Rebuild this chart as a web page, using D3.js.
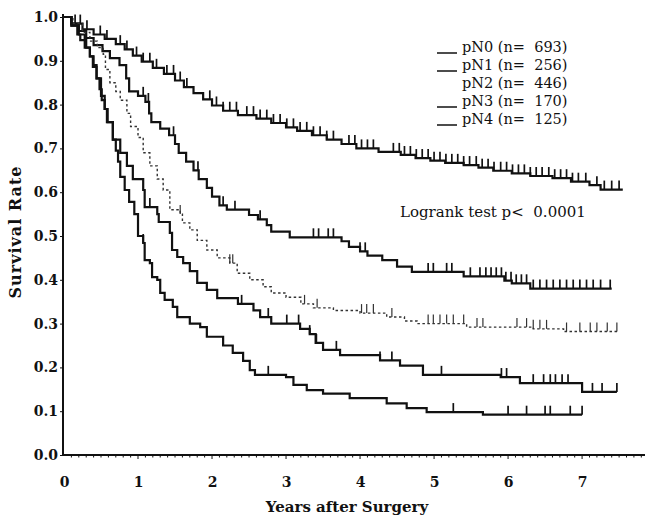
<!DOCTYPE html>
<html>
<head>
<meta charset="utf-8">
<script src="https://cdn.jsdelivr.net/npm/d3@7"></script>
<style>
  html, body { margin: 0; padding: 0; background: #fff; }
  svg { display: block; }
  text { font-family: "DejaVu Serif", serif; fill: #111; }
</style>
</head>
<body>
<svg id="chart" width="647" height="520"></svg>
<script>
// Kaplan–Meier survival by nodal stage: step times (years) and survival at each step
const groups = ["pN0", "pN1", "pN2", "pN3", "pN4"];
const groupN = [693, 256, 446, 170, 125];

const pN0Times = [0, 0.1, 0.25, 0.4, 0.55, 0.7, 0.82, 0.93, 1.05, 1.2, 1.35, 1.5, 1.62, 1.75, 1.88, 2.0, 2.15, 2.35, 2.6, 2.8, 3.0, 3.15, 3.35, 3.55, 3.75, 3.95, 4.25, 4.55, 4.75, 4.95, 5.15, 5.4, 5.6, 5.8, 6.05, 6.3, 6.6, 6.85, 7.1, 7.25];
const pN0Surv  = [1.0, 0.985, 0.972, 0.96, 0.95, 0.938, 0.926, 0.912, 0.898, 0.884, 0.87, 0.855, 0.84, 0.826, 0.812, 0.798, 0.786, 0.776, 0.768, 0.758, 0.748, 0.74, 0.73, 0.72, 0.71, 0.70, 0.692, 0.685, 0.678, 0.672, 0.667, 0.662, 0.656, 0.649, 0.643, 0.637, 0.632, 0.624, 0.616, 0.606];
const pN0End = 7.55;
const pN0Censor = [0.15, 0.22, 0.31, 0.49, 0.58, 0.76, 0.85, 0.98, 1.07, 1.16, 1.25, 1.39, 1.48, 1.57, 1.66, 1.97, 2.06, 2.15, 2.24, 2.33, 2.47, 2.56, 2.65, 2.74, 2.83, 2.92, 3.01, 3.10, 3.19, 3.28, 3.37, 3.46, 3.55, 3.64, 3.85, 3.93, 4.02, 4.1, 4.18, 4.45, 4.53, 4.6, 4.68, 4.76, 4.84, 4.92, 5.0, 5.08, 5.16, 5.24, 5.32, 5.4, 5.48, 5.57, 5.65, 5.73, 5.81, 5.9, 5.98, 6.06, 6.14, 6.22, 6.3, 6.38, 6.46, 6.55, 6.63, 6.71, 6.79, 6.87, 6.95, 7.05, 7.2, 7.3, 7.4, 7.5];

const pN1Times = [0, 0.1, 0.2, 0.3, 0.4, 0.52, 0.62, 0.75, 0.84, 0.88, 1.0, 1.1, 1.15, 1.18, 1.3, 1.42, 1.5, 1.55, 1.65, 1.75, 1.82, 1.93, 2.0, 2.1, 2.2, 2.5, 2.62, 2.74, 2.8, 3.05, 3.75, 3.85, 4.0, 4.1, 4.3, 4.5, 4.7, 5.4, 5.95, 6.05, 6.3];
const pN1Surv  = [1.0, 0.985, 0.968, 0.952, 0.936, 0.922, 0.906, 0.89, 0.86, 0.83, 0.82, 0.806, 0.78, 0.76, 0.745, 0.73, 0.71, 0.69, 0.67, 0.65, 0.63, 0.61, 0.59, 0.57, 0.56, 0.548, 0.538, 0.525, 0.51, 0.497, 0.488, 0.475, 0.465, 0.455, 0.445, 0.43, 0.418, 0.408, 0.398, 0.392, 0.38];
const pN1End = 7.4;
const pN1Censor = [1.07, 1.14, 1.48, 1.81, 2.15, 2.31, 2.65, 3.37, 3.44, 3.57, 3.64, 4.0, 4.07, 4.92, 4.99, 5.17, 5.24, 5.49, 5.62, 5.7, 5.77, 5.84, 5.91, 5.97, 6.04, 6.11, 6.18, 6.25, 6.34, 6.43, 6.52, 6.61, 6.7, 6.79, 6.88, 6.97, 7.06, 7.15, 7.25, 7.38];

const pN2Times = [0, 0.12, 0.25, 0.35, 0.45, 0.53, 0.56, 0.62, 0.7, 0.76, 0.85, 0.9, 1.0, 1.07, 1.16, 1.26, 1.34, 1.43, 1.57, 1.6, 1.7, 1.8, 1.93, 2.07, 2.24, 2.34, 2.51, 2.69, 2.8, 3.0, 3.2, 3.37, 3.64, 4.0, 4.36, 4.6, 4.77, 5.44, 6.34, 6.75];
const pN2Surv  = [1.0, 0.985, 0.965, 0.945, 0.93, 0.915, 0.88, 0.85, 0.83, 0.81, 0.78, 0.75, 0.725, 0.69, 0.66, 0.63, 0.605, 0.56, 0.55, 0.53, 0.514, 0.49, 0.468, 0.45, 0.438, 0.415, 0.40, 0.384, 0.37, 0.36, 0.345, 0.336, 0.33, 0.324, 0.315, 0.306, 0.30, 0.292, 0.288, 0.282];
const pN2End = 7.49;
const pN2Censor = [1.57, 2.24, 2.28, 3.25, 3.42, 4.02, 4.09, 4.18, 4.43, 4.92, 4.99, 5.08, 5.17, 5.26, 5.4, 5.58, 5.66, 6.12, 6.25, 6.34, 6.43, 6.52, 6.79, 6.97, 7.11, 7.2, 7.34, 7.47];

const pN3Times = [0, 0.1, 0.2, 0.28, 0.35, 0.4, 0.44, 0.5, 0.55, 0.58, 0.66, 0.76, 0.85, 0.93, 1.07, 1.09, 1.26, 1.28, 1.43, 1.46, 1.53, 1.61, 1.7, 1.8, 1.93, 2.07, 2.35, 2.56, 2.65, 2.8, 3.19, 3.32, 3.4, 3.5, 3.73, 4.27, 4.54, 4.85, 5.9, 6.16, 7.0];
const pN3Surv  = [1.0, 0.98, 0.96, 0.93, 0.91, 0.89, 0.86, 0.82, 0.79, 0.76, 0.72, 0.69, 0.66, 0.63, 0.605, 0.566, 0.55, 0.532, 0.507, 0.468, 0.452, 0.438, 0.42, 0.393, 0.377, 0.358, 0.345, 0.33, 0.315, 0.30, 0.288, 0.276, 0.256, 0.24, 0.228, 0.216, 0.204, 0.183, 0.178, 0.164, 0.144];
const pN3End = 7.47;
const pN3Censor = [1.16, 2.4, 2.76, 3.01, 3.17, 3.32, 3.41, 3.68, 4.27, 4.43, 4.85, 5.1, 5.91, 5.98, 6.34, 6.48, 6.57, 6.64, 6.73, 6.81, 7.0, 7.14, 7.27, 7.47];

const pN4Times = [0, 0.1, 0.18, 0.22, 0.3, 0.35, 0.39, 0.44, 0.48, 0.51, 0.55, 0.59, 0.66, 0.7, 0.73, 0.76, 0.82, 0.88, 0.95, 1.0, 1.07, 1.09, 1.16, 1.19, 1.26, 1.3, 1.36, 1.47, 1.53, 1.7, 1.84, 1.93, 2.15, 2.28, 2.42, 2.51, 2.58, 3.0, 3.1, 3.28, 3.5, 3.86, 4.36, 4.63, 4.9, 5.66];
const pN4Surv  = [1.0, 0.98, 0.96, 0.947, 0.93, 0.91, 0.886, 0.86, 0.835, 0.81, 0.79, 0.76, 0.72, 0.695, 0.67, 0.635, 0.605, 0.578, 0.55, 0.5, 0.484, 0.445, 0.438, 0.406, 0.40, 0.37, 0.354, 0.338, 0.315, 0.30, 0.292, 0.27, 0.25, 0.233, 0.215, 0.194, 0.183, 0.178, 0.16, 0.148, 0.14, 0.13, 0.118, 0.107, 0.098, 0.092];
const pN4End = 7.0;
const pN4Censor = [1.07, 2.76, 5.26, 6.0, 6.25, 6.5, 6.57, 6.84, 7.0];

const xTicks = [0, 1, 2, 3, 4, 5, 6, 7];
const yTicks = [0.0, 0.1, 0.2, 0.3, 0.4, 0.5, 0.6, 0.7, 0.8, 0.9, 1.0];

const series = [
  { name: groups[0], n: groupN[0], times: pN0Times, surv: pN0Surv, end: pN0End, censor: pN0Censor },
  { name: groups[1], n: groupN[1], times: pN1Times, surv: pN1Surv, end: pN1End, censor: pN1Censor },
  { name: groups[2], n: groupN[2], times: pN2Times, surv: pN2Surv, end: pN2End, censor: pN2Censor },
  { name: groups[3], n: groupN[3], times: pN3Times, surv: pN3Surv, end: pN3End, censor: pN3Censor },
  { name: groups[4], n: groupN[4], times: pN4Times, surv: pN4Surv, end: pN4End, censor: pN4Censor }
];

// line style per group: pN2 is the light dotted curve
const styles = {
  pN0: { width: 2.2, dash: null, color: "#111" },
  pN1: { width: 2.2, dash: null, color: "#111" },
  pN2: { width: 1.4, dash: "2.5,2.5", color: "#333" },
  pN3: { width: 2.2, dash: null, color: "#111" },
  pN4: { width: 2.2, dash: null, color: "#111" }
};

const svg = d3.select("#chart");
const x = d3.scaleLinear().domain([0, 7.85]).range([64, 645]);
const y = d3.scaleLinear().domain([0, 1]).range([455, 17]);

// x axis: baseline with tenth-of-a-year minor ticks
const xAxisG = svg.append("g").attr("transform", `translate(0,${y(0)})`);
xAxisG.append("line")
  .attr("x1", x(0) - 1).attr("x2", x(7.85)).attr("y1", 0).attr("y2", 0)
  .attr("stroke", "#111").attr("stroke-width", 2);
xAxisG.selectAll("line.minor")
  .data(d3.range(1, 79).map(i => i / 10))
  .join("line").attr("class", "minor")
  .attr("x1", d => x(d)).attr("x2", d => x(d))
  .attr("y1", 0).attr("y2", d => Math.abs(d - Math.round(d)) < 1e-6 ? 4 : 2.5)
  .attr("stroke", "#111").attr("stroke-width", 1);

const xAxis = d3.axisBottom(x).tickValues(xTicks).tickFormat(d3.format("d")).tickSize(0).tickPadding(22);
const gx = svg.append("g").attr("transform", `translate(0,${y(0)})`).call(xAxis);
gx.select(".domain").remove();
gx.selectAll("text").attr("font-size", 14).attr("font-weight", "bold").attr("font-family", null);

const yAxis = d3.axisLeft(y).tickValues(yTicks).tickFormat(d3.format(".1f")).tickSize(3).tickPadding(2);
const gy = svg.append("g").attr("transform", `translate(${x(0) - 1},0)`).call(yAxis);
gy.select(".domain").attr("stroke", "#111").attr("stroke-width", 2).attr("d", `M0,${y(1) - 3}V${y(0)}`);
gy.selectAll(".tick line").attr("stroke", "#111");
gy.selectAll("text").attr("font-size", 14).attr("font-weight", "bold").attr("font-family", null);

// axis titles
svg.append("text")
  .attr("x", 347).attr("y", 512).attr("text-anchor", "middle")
  .attr("font-size", 15).attr("font-weight", "bold")
  .text("Years after Surgery");
svg.append("text")
  .attr("transform", `translate(21,${232}) rotate(-90)`)
  .attr("text-anchor", "middle")
  .attr("font-size", 16).attr("font-weight", "bold")
  .attr("letter-spacing", 1)
  .text("Survival Rate");

// survival curves with censor marks
const line = d3.line().x(d => x(d[0])).y(d => y(d[1])).curve(d3.curveStepAfter);
const survivalAt = (s, t) => s.surv[Math.max(0, d3.bisectRight(s.times, t) - 1)];

series.forEach(s => {
  const st = styles[s.name];
  const pts = s.times.map((t, i) => [t, s.surv[i]]);
  pts.push([s.end, s.surv[s.surv.length - 1]]);
  const g = svg.append("g").attr("class", "km-" + s.name);
  g.append("path")
    .attr("d", line(pts))
    .attr("fill", "none")
    .attr("stroke", st.color)
    .attr("stroke-width", st.width)
    .attr("stroke-dasharray", st.dash);
  g.selectAll("line.censor")
    .data(s.censor)
    .join("line").attr("class", "censor")
    .attr("x1", d => x(d)).attr("x2", d => x(d))
    .attr("y1", d => y(survivalAt(s, d)))
    .attr("y2", d => y(survivalAt(s, d)) - 9)
    .attr("stroke", st.color)
    .attr("stroke-width", st.dash ? 1.2 : 1.7);
});

// legend
const legend = svg.append("g").attr("transform", "translate(437,52)");
series.forEach((s, i) => {
  const row = legend.append("g").attr("transform", `translate(0,${i * 18})`);
  if (!styles[s.name].dash) {
    row.append("line").attr("x1", 0).attr("x2", 20).attr("y1", 1).attr("y2", 1)
      .attr("stroke", "#111").attr("stroke-width", 1.5);
  }
  row.append("text").attr("x", 25).attr("y", 0)
    .attr("font-size", 14.5)
    .attr("xml:space", "preserve")
    .text(`${s.name} (n=  ${s.n})`);
});

svg.append("text")
  .attr("x", 400).attr("y", 217)
  .attr("font-size", 15)
  .attr("xml:space", "preserve")
  .text("Logrank test p<  0.0001");
</script>
</body>
</html>
